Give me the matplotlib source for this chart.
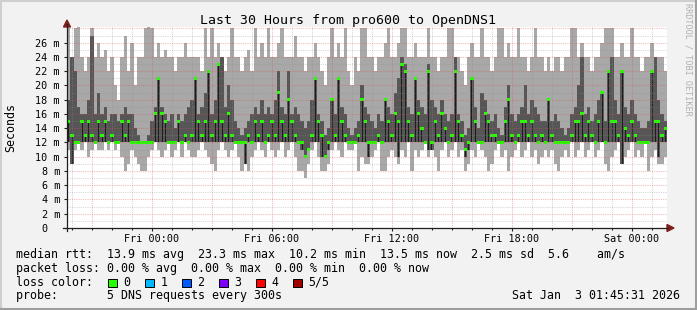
import matplotlib
matplotlib.use("Agg")
import matplotlib.pyplot as plt
from matplotlib.patches import Rectangle, Polygon
from matplotlib.lines import Line2D
import numpy as np

plt.rcParams['font.family'] = ['DejaVu Sans Mono']

# 10 minute bins, starting Thu 19:45, 30 hours
hi = [28,24,28,29,24,22,24,28,24,26, 24,25,22,24,20,18,24,27,22,26, 20,24,24,28,29,28,24,26,24,25, 24,24,22,24,24,26,
      24,24,24,24,22,28,24,28,24,26, 24,22,24,28,24,24,22,24,25,22, 28,24,26,24,28,24,24,26,28,24, 24,24,27,24,24,22,
      24,24,26,24,22,20,24,28,24,26, 24,28,22,20,24,22,28,28,24,24, 22,24,24,26,28,24,24,26,28,28, 24,24,26,24,24,24,
      28,24,24,22,24,24,28,28,24,24, 22,20,24,26,24,24,28,24,24,22, 24,28,28,24,26,24,24,28,24,24, 22,24,28,24,24,22,
      24,22,24,24,22,24,24,28,28,24, 26,24,24,22,24,24,26,28,28,28, 24,24,26,24,24,28,24,24,22,24, 24,26,24,24,24,22]
lo = [11,9,11,12,11,12,10,11,12,11, 11,12,11,12,11,12,10,8,9,11, 10,9,8,8,10,11,12,11,10,11, 12,10,11,12,10,12,
      11,10,10,11,12,11,10,9,8,11, 12,11,10,11,12,10,8,9,8,10, 11,12,11,10,12,11,10,11,12,10, 11,12,10,8,8,7,
      9,11,12,10,8,8,9,11,12,11, 10,12,11,11,12,8,10,9,9,10, 11,12,8,8,10,11,10,9,11,10, 12,8,11,10,11,12,
      10,11,10,8,11,12,10,11,12,10, 11,8,9,11,10,12,11,10,8,9, 11,12,10,11,8,10,11,12,10,11, 12,10,11,9,10,11,
      10,11,9,8,10,11,10,12,10,11, 12,10,11,12,10,11,12,9,8,10, 11,12,9,10,11,12,10,11,10,12, 8,10,11,9,9,10]
dhi = [18,24,22,17,16,16,18,27,16,19, 16,17,15,16,16,15,16,17,16,16, 14,13,12,12,13,15,17,21,17,16, 15,16,14,16,15,16,
       17,18,21,16,17,19,22,16,18,23, 24,17,20,18,15,14,13,14,15,16, 17,16,18,16,17,16,18,22,17,16, 22,16,17,16,15,14,
       15,18,21,16,15,13,14,18,16,21, 17,16,14,13,14,15,20,17,16,15, 14,16,15,18,17,16,19,21,24,23, 17,16,21,18,17,16,
       23,18,17,16,18,16,15,16,24,16, 15,13,14,21,17,14,19,18,16,15, 16,14,13,17,20,16,15,16,17,20, 16,18,17,16,15,15,
       18,15,16,15,14,13,14,16,17,20, 24,16,17,15,16,18,19,15,22,24, 18,16,22,17,16,18,16,15,14,14, 15,22,24,18,16,15]
dlo = [12,9,12,12,12,12,12,12,12,12, 12,12,12,12,12,12,12,12,12,12, 12,12,12,12,12,12,12,12,12,12, 12,12,12,12,12,12,
       12,12,12,12,12,12,12,12,12,12, 12,12,12,12,12,12,12,9,12,12, 12,12,12,12,12,12,12,12,12,12, 12,12,12,12,11,10,
       11,12,12,12,10,10,11,12,12,12, 12,12,12,12,12,12,12,12,10,12, 12,12,12,12,12,12,12,10,12,12, 12,12,12,12,12,12,
       11,11,12,12,12,12,12,12,12,12, 12,10,11,12,12,12,12,12,12,12, 12,12,12,12,12,12,12,12,12,12, 12,12,12,12,12,12,
       12,12,12,12,12,12,12,12,12,12, 12,12,12,12,12,12,12,12,12,12, 12,12,9,12,12,12,12,12,12,12, 12,12,12,10,12,12]
med = [15,13,12,12,15,13,15,13,12,15, 13,15,12,13,12,12,15,13,15,12, 12,12,12,12,12,12,16,21,16,15, 12,12,12,15,12,13,
       12,13,21,15,13,15,22,13,15,23, 15,13,16,13,12,12,12,12,13,12, 15,13,15,12,13,15,13,19,15,13, 18,15,13,12,12,10,
       11,13,21,15,13,10,12,18,13,21, 15,13,12,12,12,13,18,15,12,12, 12,13,12,18,15,13,16,15,23,22, 15,13,21,16,14,12,
       22,12,15,13,16,14,12,13,22,15, 13,11,12,21,15,12,12,16,15,13, 13,12,12,15,18,13,12,13,15,15, 13,15,13,12,13,12,
       18,13,12,12,12,12,12,13,15,15, 16,13,15,13,12,15,19,12,22,15, 15,13,22,14,13,15,13,12,12,12, 12,22,15,15,13,14]

tick_pos = [4.25, 10.25, 16.25, 22.25, 28.25]
tick_lbl = ["Fri 00:00", "Fri 06:00", "Fri 12:00", "Fri 18:00", "Sat 00:00"]
loss_names = ["0", "1", "2", "3", "4", "5/5"]
loss_cols = ["#26ff00", "#00b8ff", "#0059ff", "#7e00ff", "#ff0000", "#a10000"]

W, H = 697, 310
def fx(p): return p / W
def fy(p): return 1 - p / H

fig = plt.figure(figsize=(W / 100, H / 100), dpi=100, facecolor="#f2f2f2")
ax = fig.add_axes([fx(67), fy(228), 600 / W, 201 / H])
ax.set_facecolor("white")
for s in ax.spines.values():
    s.set_visible(False)

hi, lo, dhi, dlo, med = [np.array(a, float) for a in (hi, lo, dhi, dlo, med)]
step = 1 / 6
x = np.arange(len(med)) * step

ax.bar(x, hi - lo, bottom=lo, width=step, align='edge', color="#a8a8a8", lw=0, antialiased=False, zorder=1)
ax.bar(x, dhi - dlo, bottom=dlo, width=step, align='edge', color="#565656", lw=0, antialiased=False, zorder=2)
ax.bar(x + step * 0.35, med - dlo, bottom=dlo, width=step * 0.3, align='edge', color="#1c1c1c", lw=0, antialiased=False, zorder=3)
ax.bar(x, 0.42, bottom=med - 0.21, width=step, align='edge', color=loss_cols[0], lw=0, antialiased=False, zorder=4)

ax.set_xlim(0, 30)
ax.set_ylim(0, 28.2)

# grid
gcol = (0.56, 0.56, 0.56, 0.35)
mcol = (0.87, 0.31, 0.31, 0.38)
for h in np.arange(0.25, 30, 1):
    major = abs((h - 1.25) % 3) < 1e-6
    ax.axvline(h, color=mcol if major else gcol, lw=0.8, ls=(0, (1, 1)), zorder=5)
for v in range(1, 29):
    ax.axhline(v, color=mcol if v % 2 == 0 else gcol, lw=0.8, ls=(0, (1, 1)), zorder=5)

ax.set_xticks(tick_pos)
ax.set_xticklabels(tick_lbl)
ax.set_xticks(np.arange(0.25, 30, 1), minor=True)
ax.set_yticks(np.arange(0, 27, 2))
ax.set_yticklabels(["0  "] + ["%d m" % v for v in range(2, 27, 2)])
ax.tick_params(axis='both', which='major', labelsize=7.3, color="#1f1f1f", length=2.2, width=0.8)
ax.tick_params(axis='x', which='major', pad=2.2)
ax.tick_params(axis='y', which='major', pad=2.9)
ax.tick_params(axis='x', which='minor', length=1.5, width=0.8, color="#1f1f1f")

# axis lines and arrows
fig.add_artist(Line2D([fx(63), fx(668)], [fy(228), fy(228)], color="#1f1f1f", lw=0.9))
fig.add_artist(Line2D([fx(67), fx(67)], [fy(231), fy(24)], color="#1f1f1f", lw=0.9))
fig.add_artist(Polygon([(fx(667), fy(224.5)), (fx(674), fy(228)), (fx(667), fy(231.5))], closed=True, color="#7f1f1f"))
fig.add_artist(Polygon([(fx(63.5), fy(27)), (fx(67), fy(20)), (fx(70.5), fy(27))], closed=True, color="#7f1f1f"))

# frame
fig.add_artist(Line2D([0, 1], [fy(1), fy(1)], color="#cfcfcf", lw=1.5))
fig.add_artist(Line2D([fx(1), fx(1)], [0, 1], color="#cfcfcf", lw=1.5))
fig.add_artist(Line2D([0, 1], [fy(309), fy(309)], color="#9e9e9e", lw=1.5))
fig.add_artist(Line2D([fx(696), fx(696)], [0, 1], color="#9e9e9e", lw=1.5))

fig.text(fx(348), fy(24), "Last 30 Hours from pro600 to OpenDNS1", ha='center', va='baseline', fontsize=9.5)
fig.text(fx(11), fy(127), "Seconds", ha='center', va='center', rotation=90, fontsize=8.4)
fig.text(fx(688), fy(59), "RRDTOOL / TOBI OETIKER", ha='center', va='center', rotation=270,
         fontsize=6.1, color="#b0b0b0")

lsz = 8.4
fig.text(fx(16), fy(258.3), "median rtt:  13.9 ms avg  23.3 ms max  10.2 ms min  13.5 ms now  2.5 ms sd  5.6    am/s",
         ha='left', va='baseline', fontsize=lsz)
fig.text(fx(16), fy(272), "packet loss: 0.00 % avg  0.00 % max  0.00 % min  0.00 % now",
         ha='left', va='baseline', fontsize=lsz)
fig.text(fx(16), fy(285.7), "loss color:", ha='left', va='baseline', fontsize=lsz)
for i, (nm, c) in enumerate(zip(loss_names, loss_cols)):
    bx = 108.3 + i * 37
    fig.add_artist(Rectangle((fx(bx), fy(287)), 9 / W, 8.5 / H, facecolor=c, edgecolor="black", lw=0.7))
    fig.text(fx(bx + 15), fy(285.7), nm, ha='left', va='baseline', fontsize=lsz)
fig.text(fx(16), fy(299.3), "probe:       5 DNS requests every 300s", ha='left', va='baseline', fontsize=lsz)
fig.text(fx(680), fy(299.3), "Sat Jan  3 01:45:31 2026", ha='right', va='baseline', fontsize=lsz)

fig.savefig("out.png", dpi=100, facecolor=fig.get_facecolor())
